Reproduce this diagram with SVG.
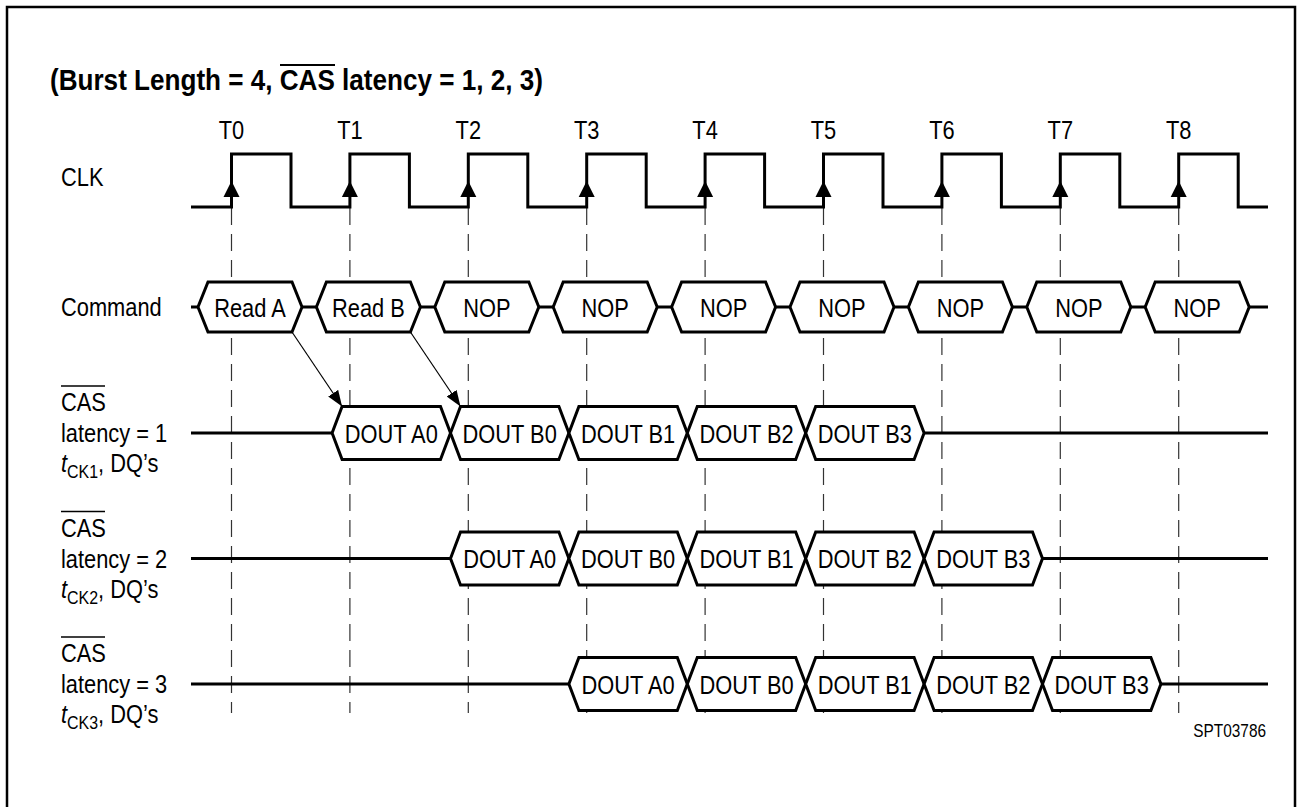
<svg xmlns="http://www.w3.org/2000/svg" xmlns:xlink="http://www.w3.org/1999/xlink" width="1301" height="807" viewBox="0 0 1301 807">
<style>
.t{font-family:"Liberation Sans",Arial,sans-serif;font-size:26px;fill:#000}
.ttl{font-family:"Liberation Sans",Arial,sans-serif;font-size:29px;font-weight:bold;fill:#000}
.w{fill:none;stroke:#000;stroke-width:3}
.hx{fill:#fff;stroke:#000;stroke-width:3;stroke-linejoin:miter}
.grid line{stroke:#333;stroke-width:1.2;stroke-dasharray:17 9}
.arr{stroke:#000;stroke-width:1.2;fill:none}
.ov{stroke:#000;stroke-width:1.5}
</style>
<defs>
<path id="cmd" d="M0 0 L10 -25 L94 -25 L104 0 L94 25 L10 25 Z"/>
<path id="dq" d="M0 0 L10 -26.5 L108.4 -26.5 L118.4 0 L108.4 26.5 L10 26.5 Z"/>
<path id="ca" d="M0 181 L-8 197 L8 197 Z"/>
<marker id="ah" markerUnits="userSpaceOnUse" markerWidth="16" markerHeight="12" viewBox="0 0 16 12" refX="16" refY="6" orient="auto">
<path d="M0 0 L16 6 L0 12 Z" fill="#000"/>
</marker>
</defs>
<rect x="7" y="7" width="1288" height="820" fill="#fff" stroke="#000" stroke-width="2.5"/>
<g id="title">
<text class="ttl" x="50" y="90" textLength="493" lengthAdjust="spacingAndGlyphs">(Burst Length = 4, CAS latency = 1, 2, 3)</text>
<line x1="280" y1="65" x2="335" y2="65" stroke="#000" stroke-width="2"/>
</g>
<g id="time-labels">
<text class="t" text-anchor="middle" transform="translate(231.5 139) scale(0.84 1)">T0</text>
<text class="t" text-anchor="middle" transform="translate(349.9 139) scale(0.84 1)">T1</text>
<text class="t" text-anchor="middle" transform="translate(468.3 139) scale(0.84 1)">T2</text>
<text class="t" text-anchor="middle" transform="translate(586.7 139) scale(0.84 1)">T3</text>
<text class="t" text-anchor="middle" transform="translate(705.1 139) scale(0.84 1)">T4</text>
<text class="t" text-anchor="middle" transform="translate(823.5 139) scale(0.84 1)">T5</text>
<text class="t" text-anchor="middle" transform="translate(941.9 139) scale(0.84 1)">T6</text>
<text class="t" text-anchor="middle" transform="translate(1060.3 139) scale(0.84 1)">T7</text>
<text class="t" text-anchor="middle" transform="translate(1178.7 139) scale(0.84 1)">T8</text>
</g>
<g id="signal-labels">
<text class="t" transform="translate(61 186) scale(0.84 1)">CLK</text>
<text class="t" transform="translate(61 316) scale(0.84 1)">Command</text>
<g id="label-cl1">
<line class="ov" x1="61" y1="386" x2="105" y2="386"/>
<text class="t" transform="translate(61 411) scale(0.84 1)">CAS</text>
<text class="t" transform="translate(61 442) scale(0.84 1)">latency = 1</text>
<text class="t" transform="translate(61 472) scale(0.84 1)"><tspan font-style="italic">t</tspan><tspan font-size="19" dy="6">CK1</tspan><tspan dy="-6">, DQ’s</tspan></text>
</g>
<g id="label-cl2">
<line class="ov" x1="61" y1="511.5" x2="105" y2="511.5"/>
<text class="t" transform="translate(61 536.5) scale(0.84 1)">CAS</text>
<text class="t" transform="translate(61 567.5) scale(0.84 1)">latency = 2</text>
<text class="t" transform="translate(61 597.5) scale(0.84 1)"><tspan font-style="italic">t</tspan><tspan font-size="19" dy="6">CK2</tspan><tspan dy="-6">, DQ’s</tspan></text>
</g>
<g id="label-cl3">
<line class="ov" x1="61" y1="637" x2="105" y2="637"/>
<text class="t" transform="translate(61 662) scale(0.84 1)">CAS</text>
<text class="t" transform="translate(61 693) scale(0.84 1)">latency = 3</text>
<text class="t" transform="translate(61 723) scale(0.84 1)"><tspan font-style="italic">t</tspan><tspan font-size="19" dy="6">CK3</tspan><tspan dy="-6">, DQ’s</tspan></text>
</g>
</g>
<g id="grid" class="grid">
<line x1="231.5" y1="208" x2="231.5" y2="713"/>
<line x1="349.9" y1="208" x2="349.9" y2="713"/>
<line x1="468.3" y1="208" x2="468.3" y2="713"/>
<line x1="586.7" y1="208" x2="586.7" y2="713"/>
<line x1="705.1" y1="208" x2="705.1" y2="713"/>
<line x1="823.5" y1="208" x2="823.5" y2="713"/>
<line x1="941.9" y1="208" x2="941.9" y2="713"/>
<line x1="1060.3" y1="208" x2="1060.3" y2="713"/>
<line x1="1178.7" y1="208" x2="1178.7" y2="713"/>
</g>
<g id="clk">
<path class="w" d="M191 207 H231.5 V154 H291 V207 H349.9 V154 H409.4 V207 H468.3 V154 H527.8 V207 H586.7 V154 H646.2 V207 H705.1 V154 H764.6 V207 H823.5 V154 H883 V207 H941.9 V154 H1001.4 V207 H1060.3 V154 H1119.8 V207 H1178.7 V154 H1238.2 V207 H1268"/>
<use xlink:href="#ca" x="231.5"/>
<use xlink:href="#ca" x="349.9"/>
<use xlink:href="#ca" x="468.3"/>
<use xlink:href="#ca" x="586.7"/>
<use xlink:href="#ca" x="705.1"/>
<use xlink:href="#ca" x="823.5"/>
<use xlink:href="#ca" x="941.9"/>
<use xlink:href="#ca" x="1060.3"/>
<use xlink:href="#ca" x="1178.7"/>
</g>
<g id="command">
<line class="w" x1="191" y1="307" x2="1268" y2="307"/>
<g id="cmd-t0"><use class="hx" xlink:href="#cmd" x="198" y="307"/><text class="t" text-anchor="middle" transform="translate(250 316.5) scale(0.84 1)">Read A</text></g>
<g id="cmd-t1"><use class="hx" xlink:href="#cmd" x="316.4" y="307"/><text class="t" text-anchor="middle" transform="translate(368.4 316.5) scale(0.84 1)">Read B</text></g>
<g id="cmd-t2"><use class="hx" xlink:href="#cmd" x="434.8" y="307"/><text class="t" text-anchor="middle" transform="translate(486.8 316.5) scale(0.84 1)">NOP</text></g>
<g id="cmd-t3"><use class="hx" xlink:href="#cmd" x="553.2" y="307"/><text class="t" text-anchor="middle" transform="translate(605.2 316.5) scale(0.84 1)">NOP</text></g>
<g id="cmd-t4"><use class="hx" xlink:href="#cmd" x="671.6" y="307"/><text class="t" text-anchor="middle" transform="translate(723.6 316.5) scale(0.84 1)">NOP</text></g>
<g id="cmd-t5"><use class="hx" xlink:href="#cmd" x="790" y="307"/><text class="t" text-anchor="middle" transform="translate(842 316.5) scale(0.84 1)">NOP</text></g>
<g id="cmd-t6"><use class="hx" xlink:href="#cmd" x="908.4" y="307"/><text class="t" text-anchor="middle" transform="translate(960.4 316.5) scale(0.84 1)">NOP</text></g>
<g id="cmd-t7"><use class="hx" xlink:href="#cmd" x="1026.8" y="307"/><text class="t" text-anchor="middle" transform="translate(1078.8 316.5) scale(0.84 1)">NOP</text></g>
<g id="cmd-t8"><use class="hx" xlink:href="#cmd" x="1145.2" y="307"/><text class="t" text-anchor="middle" transform="translate(1197.2 316.5) scale(0.84 1)">NOP</text></g>
</g>
<g id="dq-cl1">
<line class="w" x1="191" y1="433" x2="1268" y2="433"/>
<g id="cl1-a0"><use class="hx" xlink:href="#dq" x="332.1" y="433"/><text class="t" text-anchor="middle" transform="translate(391.3 442.5) scale(0.84 1)">DOUT A0</text></g>
<g id="cl1-b0"><use class="hx" xlink:href="#dq" x="450.5" y="433"/><text class="t" text-anchor="middle" transform="translate(509.7 442.5) scale(0.84 1)">DOUT B0</text></g>
<g id="cl1-b1"><use class="hx" xlink:href="#dq" x="568.9" y="433"/><text class="t" text-anchor="middle" transform="translate(628.1 442.5) scale(0.84 1)">DOUT B1</text></g>
<g id="cl1-b2"><use class="hx" xlink:href="#dq" x="687.3" y="433"/><text class="t" text-anchor="middle" transform="translate(746.5 442.5) scale(0.84 1)">DOUT B2</text></g>
<g id="cl1-b3"><use class="hx" xlink:href="#dq" x="805.7" y="433"/><text class="t" text-anchor="middle" transform="translate(864.9 442.5) scale(0.84 1)">DOUT B3</text></g>
</g>
<g id="dq-cl2">
<line class="w" x1="191" y1="558.5" x2="1268" y2="558.5"/>
<g id="cl2-a0"><use class="hx" xlink:href="#dq" x="450.5" y="558.5"/><text class="t" text-anchor="middle" transform="translate(509.7 568) scale(0.84 1)">DOUT A0</text></g>
<g id="cl2-b0"><use class="hx" xlink:href="#dq" x="568.9" y="558.5"/><text class="t" text-anchor="middle" transform="translate(628.1 568) scale(0.84 1)">DOUT B0</text></g>
<g id="cl2-b1"><use class="hx" xlink:href="#dq" x="687.3" y="558.5"/><text class="t" text-anchor="middle" transform="translate(746.5 568) scale(0.84 1)">DOUT B1</text></g>
<g id="cl2-b2"><use class="hx" xlink:href="#dq" x="805.7" y="558.5"/><text class="t" text-anchor="middle" transform="translate(864.9 568) scale(0.84 1)">DOUT B2</text></g>
<g id="cl2-b3"><use class="hx" xlink:href="#dq" x="924.1" y="558.5"/><text class="t" text-anchor="middle" transform="translate(983.3 568) scale(0.84 1)">DOUT B3</text></g>
</g>
<g id="dq-cl3">
<line class="w" x1="191" y1="684" x2="1268" y2="684"/>
<g id="cl3-a0"><use class="hx" xlink:href="#dq" x="568.9" y="684"/><text class="t" text-anchor="middle" transform="translate(628.1 693.5) scale(0.84 1)">DOUT A0</text></g>
<g id="cl3-b0"><use class="hx" xlink:href="#dq" x="687.3" y="684"/><text class="t" text-anchor="middle" transform="translate(746.5 693.5) scale(0.84 1)">DOUT B0</text></g>
<g id="cl3-b1"><use class="hx" xlink:href="#dq" x="805.7" y="684"/><text class="t" text-anchor="middle" transform="translate(864.9 693.5) scale(0.84 1)">DOUT B1</text></g>
<g id="cl3-b2"><use class="hx" xlink:href="#dq" x="924.1" y="684"/><text class="t" text-anchor="middle" transform="translate(983.3 693.5) scale(0.84 1)">DOUT B2</text></g>
<g id="cl3-b3"><use class="hx" xlink:href="#dq" x="1042.5" y="684"/><text class="t" text-anchor="middle" transform="translate(1101.7 693.5) scale(0.84 1)">DOUT B3</text></g>
</g>
<g id="connectors">
<line class="arr" x1="292" y1="332" x2="342.1" y2="406.5" marker-end="url(#ah)"/>
<line class="arr" x1="410.4" y1="332" x2="460.5" y2="406.5" marker-end="url(#ah)"/>
</g>
<g id="figure-id">
<text class="t" text-anchor="end" transform="translate(1266 737) scale(0.88 1)" style="font-size:17.5px">SPT03786</text>
</g>
</svg>
